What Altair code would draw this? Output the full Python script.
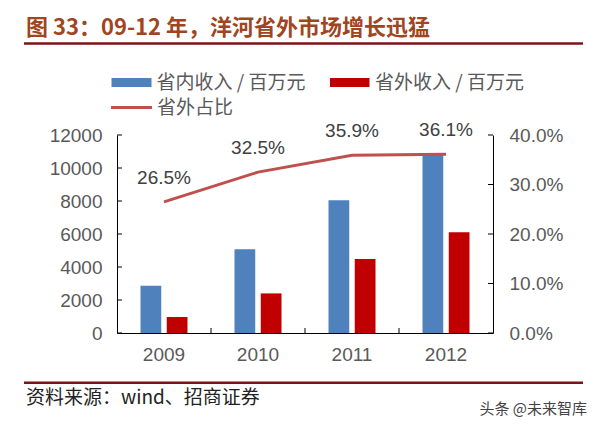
import altair as alt
import pandas as pd

# ---- data ----
years = ["2009", "2010", "2011", "2012"]
series = ["省内收入 / 百万元", "省外收入 / 百万元"]
domestic = [2870, 5070, 8040, 10890]
outside = [970, 2400, 4480, 6100]
share_pct = [26.5, 32.5, 35.9, 36.1]
left_ticks = [0, 2000, 4000, 6000, 8000, 10000, 12000]
right_ticks = [0.0, 0.1, 0.2, 0.3, 0.4]
x_bounds = [1, 2, 3]

title_text = "图 33：09-12 年，洋河省外市场增长迅猛"
line_name = "省外占比"
source_text = "资料来源：wind、招商证券"
mark_text_wm = "头条 @未来智库"

FONT = "Liberation Sans, Arial, sans-serif"
CJK = "Noto Sans CJK SC, sans-serif"
W, H = 376, 198
BLUE, RED, LINE = "#4F81BD", "#C00000", "#C0504D"
AXC = "#595959"

df_bars = pd.DataFrame({
    "year": years * 2,
    "series": [series[0]] * 4 + [series[1]] * 4,
    "value": domestic + outside,
})
df_share = pd.DataFrame({
    "year": years,
    "share": [p / 100 for p in share_pct],
    "label": [f"{p}%" for p in share_pct],
})
df_lt = pd.DataFrame({"value": left_ticks})
df_rt = pd.DataFrame({"share": right_ticks})
df_xb = pd.DataFrame({"b": x_bounds})
one = pd.DataFrame({"k": [0]})

xscale = alt.Scale(domain=years, paddingInner=0.5, paddingOuter=0.25)
yl = alt.Scale(domain=[0, 12000], nice=False, zero=True)
yr = alt.Scale(domain=[0, 0.4], nice=False, zero=True)

left_axis = alt.Axis(
    values=left_ticks, format="d", title=None, ticks=False, grid=False,
    domainColor="#000", domainWidth=1, labelFontSize=19, labelColor=AXC,
    labelFont=FONT, labelPadding=15)
right_axis = alt.Axis(
    orient="right", values=right_ticks, format=".1%", title=None, ticks=False,
    grid=False, domainColor="#000", domainWidth=1, labelFontSize=19,
    labelColor=AXC, labelFont=FONT, labelPadding=16)

bars = alt.Chart(df_bars).mark_bar().encode(
    x=alt.X("year:N", scale=xscale, axis=alt.Axis(
        title=None, labelAngle=0, ticks=False, domainColor="#000", domainWidth=1,
        labelFontSize=19, labelColor=AXC, labelFont=FONT, labelPadding=12)),
    xOffset=alt.XOffset("series:N", scale=alt.Scale(domain=series, paddingInner=0.21, paddingOuter=0)),
    y=alt.Y("value:Q", scale=yl, axis=left_axis, stack=None),
    color=alt.Color("series:N", scale=alt.Scale(domain=series, range=[BLUE, RED]), legend=None),
)
lticks = alt.Chart(df_lt).mark_rule(color="#000", strokeWidth=1).encode(
    y=alt.Y("value:Q", scale=yl, axis=left_axis),
    x=alt.value(0), x2=alt.value(5),
)
left = alt.layer(bars, lticks)

line = alt.Chart(df_share).mark_line(color=LINE, strokeWidth=3).encode(
    x=alt.X("year:N", scale=xscale, axis=None),
    y=alt.Y("share:Q", scale=yr, axis=right_axis),
)
labels = alt.Chart(df_share).mark_text(dy=-24, fontSize=19, font=FONT, color="#404040").encode(
    x=alt.X("year:N", scale=xscale, axis=None),
    y=alt.Y("share:Q", scale=yr, axis=right_axis),
    text="label:N",
)
rticks = alt.Chart(df_rt).mark_rule(color="#000", strokeWidth=1).encode(
    y=alt.Y("share:Q", scale=yr, axis=right_axis),
    x=alt.value(W - 5), x2=alt.value(W),
)
right = alt.layer(line, labels, rticks)

xticks = alt.Chart(df_xb).mark_rule(color="#000", strokeWidth=1).encode(
    x=alt.X("b:Q", scale=alt.Scale(domain=[0, 4], nice=False, zero=False), axis=None),
    y=alt.value(H - 5), y2=alt.value(H),
)


def txt(t, x, y, size, color, font, weight="normal", align="left"):
    return alt.Chart(one).mark_text(
        text=t, align=align, baseline="middle", fontSize=size, font=font,
        color=color, fontWeight=weight,
    ).encode(x=alt.value(x), y=alt.value(y))


def hrule(x1, x2, y, color, w):
    return alt.Chart(one).mark_rule(color=color, strokeWidth=w).encode(
        x=alt.value(x1), x2=alt.value(x2), y=alt.value(y))


def rect(x1, x2, y1, y2, color):
    return alt.Chart(one).mark_rect(color=color).encode(
        x=alt.value(x1), x2=alt.value(x2), y=alt.value(y1), y2=alt.value(y2))


annots = [
    txt(title_text, -91, -107, 22, "#A0451E", CJK, weight="bold"),
    hrule(-93, 466, -91.5, "#7A1416", 2.5),
    rect(-5.5, 34.5, -57, -48, BLUE),
    txt(series[0], 39.5, -52, 19, AXC, CJK),
    rect(213, 252.5, -57, -48, RED),
    txt(series[1], 258, -52, 19, AXC, CJK),
    hrule(-6, 35, -27.5, LINE, 3),
    txt(line_name, 40, -27, 19, AXC, CJK),
    hrule(-93, 466, 247.7, "#7A1416", 2.5),
    txt(source_text, -91, 263, 19, "#222222", CJK),
    txt(mark_text_wm, 470, 274, 15, "#444444", CJK, align="right"),
]

chart = alt.layer(left, right, xticks, *annots).resolve_scale(
    y="independent", x="independent"
).properties(
    width=W, height=H,
    autosize=alt.AutoSizeParams(type="none"),
    padding={"left": 109, "top": 127, "right": 96, "bottom": 88},
).configure_view(stroke=None)

chart.save("out.html", embed_options={"renderer": "svg", "actions": False})
